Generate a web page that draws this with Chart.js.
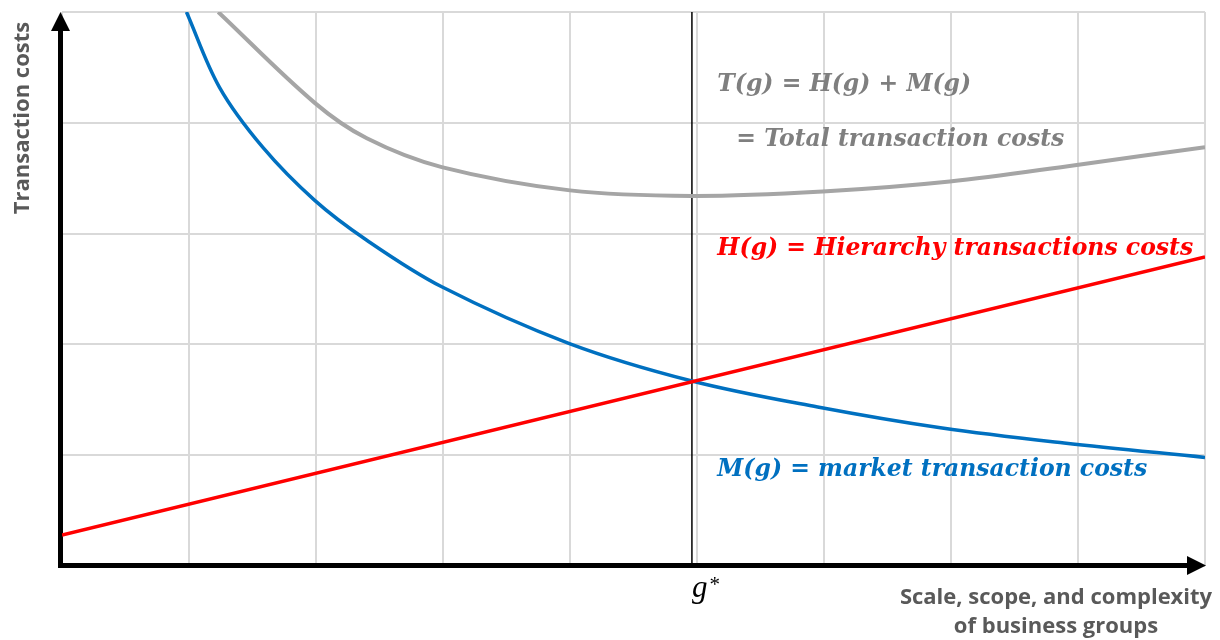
<!DOCTYPE html>
<html>
<head>
<meta charset="utf-8">
<script src="https://cdn.jsdelivr.net/npm/chart.js@4.4.0/dist/chart.umd.min.js"></script>
<style>
  html, body { margin: 0; padding: 0; background: #ffffff; }
  #wrap { width: 1220px; height: 640px; position: relative; }
</style>
</head>
<body>
<div id="wrap"><canvas id="c" width="1220" height="640"></canvas></div>
<script>
// ---- data (x in grid units 0..9, y in grid units 0..5) ----
const marketX = [0.98, 1.24, 1.58, 1.99, 2.40, 2.99, 3.99, 4.96, 5.95, 6.93, 7.89, 9.00];
const marketY = [5.00, 4.32, 3.78, 3.30, 2.94, 2.52, 2.01, 1.67, 1.435, 1.245, 1.11, 0.98];

const hierX = [0, 9];
const hierY = [0.28, 2.79];

const totalX = [1.23, 1.99, 2.40, 2.99, 4.00, 4.96, 5.99, 6.99, 7.99, 9.00];
const totalY = [5.00, 4.18, 3.86, 3.60, 3.39, 3.34, 3.38, 3.47, 3.62, 3.78];

const gStarX = [4.96, 4.96];
const gStarY = [0, 5];

const xRange = [0, 9];
const yRange = [0, 5];

const labelTotal1 = "T(g) = H(g) + M(g)";
const labelTotal2 = "= Total transaction costs";
const labelHier = "H(g) = Hierarchy transactions costs";
const labelMarket = "M(g) = market transaction costs";
const labelGStar = "g";
const yTitle = "Transaction costs";
const xTitle = ["Scale, scope, and complexity", "of business groups"];

function pts(xs, ys) { return xs.map((x, i) => ({ x: x, y: ys[i] })); }

const axisPlugin = {
  id: 'axes',
  beforeDatasetsDraw(chart) {
    const ctx = chart.ctx;
    const xs = chart.scales.x, ys = chart.scales.y;
    const x0 = xs.getPixelForValue(xRange[0]) - 1.5;
    const y0 = ys.getPixelForValue(yRange[0]) - 0.5;
    const yTop = ys.getPixelForValue(yRange[1]);
    const xRight = xs.getPixelForValue(xRange[1]) + 1;
    ctx.save();
    ctx.strokeStyle = '#000';
    ctx.fillStyle = '#000';
    ctx.lineWidth = 5;
    ctx.lineCap = 'butt';
    // y axis
    ctx.beginPath();
    ctx.moveTo(x0, y0 + 2.5);
    ctx.lineTo(x0, yTop + 18);
    ctx.stroke();
    ctx.beginPath();
    ctx.moveTo(x0, yTop);
    ctx.lineTo(x0 - 9.5, yTop + 19);
    ctx.lineTo(x0 + 9.5, yTop + 19);
    ctx.closePath();
    ctx.fill();
    // x axis
    ctx.beginPath();
    ctx.moveTo(x0 - 2.5, y0);
    ctx.lineTo(xRight - 18, y0);
    ctx.stroke();
    ctx.beginPath();
    ctx.moveTo(xRight, y0);
    ctx.lineTo(xRight - 19, y0 - 9.5);
    ctx.lineTo(xRight - 19, y0 + 9.5);
    ctx.closePath();
    ctx.fill();
    ctx.restore();
  },
  afterDraw(chart) {
    const ctx = chart.ctx;
    const xs = chart.scales.x, ys = chart.scales.y;
    ctx.save();
    ctx.textBaseline = 'middle';
    ctx.textAlign = 'left';
    const mathFont = 'italic bold 23.5px "DejaVu Serif"';
    ctx.font = mathFont;
    const lx = xs.getPixelForValue(5.16);
    ctx.fillStyle = '#7f7f7f';
    ctx.fillText(labelTotal1, lx, ys.getPixelForValue(4.34));
    ctx.fillText(labelTotal2, xs.getPixelForValue(5.31), ys.getPixelForValue(3.85));
    ctx.fillStyle = '#ff0000';
    ctx.fillText(labelHier, lx, ys.getPixelForValue(2.86));
    ctx.fillStyle = '#0070c0';
    ctx.fillText(labelMarket, lx, ys.getPixelForValue(0.87));

    // g*
    ctx.fillStyle = '#000';
    ctx.textBaseline = 'alphabetic';
    ctx.font = 'italic 31px "Liberation Serif"';
    const gx = xs.getPixelForValue(4.96);
    const gy = ys.getPixelForValue(0) + 31;
    ctx.fillText(labelGStar, gx, gy);
    const gw = ctx.measureText(labelGStar).width;
    ctx.font = '21px "Liberation Serif"';
    ctx.fillText('*', gx + gw + 2, gy - 6);

    // axis titles
    ctx.textBaseline = 'middle';
    ctx.fillStyle = '#595959';
    ctx.font = 'bold 22px "Open Sans"';
    ctx.textAlign = 'center';
    ctx.save();
    ctx.translate(23, 118);
    ctx.rotate(-Math.PI / 2);
    ctx.fillText(yTitle, 0, 0);
    ctx.restore();
    ctx.fillText(xTitle[0], 1056, 598);
    ctx.fillText(xTitle[1], 1056, 627);
    ctx.restore();
  }
};

new Chart(document.getElementById('c'), {
  type: 'scatter',
  data: {
    datasets: [
      { label: 'H(g)', data: pts(hierX, hierY), showLine: true, borderColor: '#ff0000', borderWidth: 3.5, pointRadius: 0, tension: 0 },
      { label: 'M(g)', data: pts(marketX, marketY), showLine: true, borderColor: '#0070c0', borderWidth: 3.5, pointRadius: 0, tension: 0.35 },
      { label: 'T(g)', data: pts(totalX, totalY), showLine: true, borderColor: '#a5a5a5', borderWidth: 4, pointRadius: 0, tension: 0.35 },
      { label: 'g*', data: pts(gStarX, gStarY), showLine: true, borderColor: '#000000', borderWidth: 1.5, pointRadius: 0 }
    ]
  },
  options: {
    responsive: false,
    animation: false,
    events: [],
    layout: { autoPadding: false, padding: { left: 62, top: 12, right: 15, bottom: 74 } },
    plugins: { legend: { display: false }, tooltip: { enabled: false } },
    scales: {
      x: {
        type: 'linear', min: xRange[0], max: xRange[1],
        ticks: { display: false, stepSize: 1 },
        grid: { color: '#d9d9d9', lineWidth: 2, drawTicks: false },
        border: { display: false }
      },
      y: {
        type: 'linear', min: yRange[0], max: yRange[1],
        ticks: { display: false, stepSize: 1 },
        grid: { color: '#d9d9d9', lineWidth: 2, drawTicks: false },
        border: { display: false }
      }
    }
  },
  plugins: [axisPlugin]
});
</script>
</body>
</html>
